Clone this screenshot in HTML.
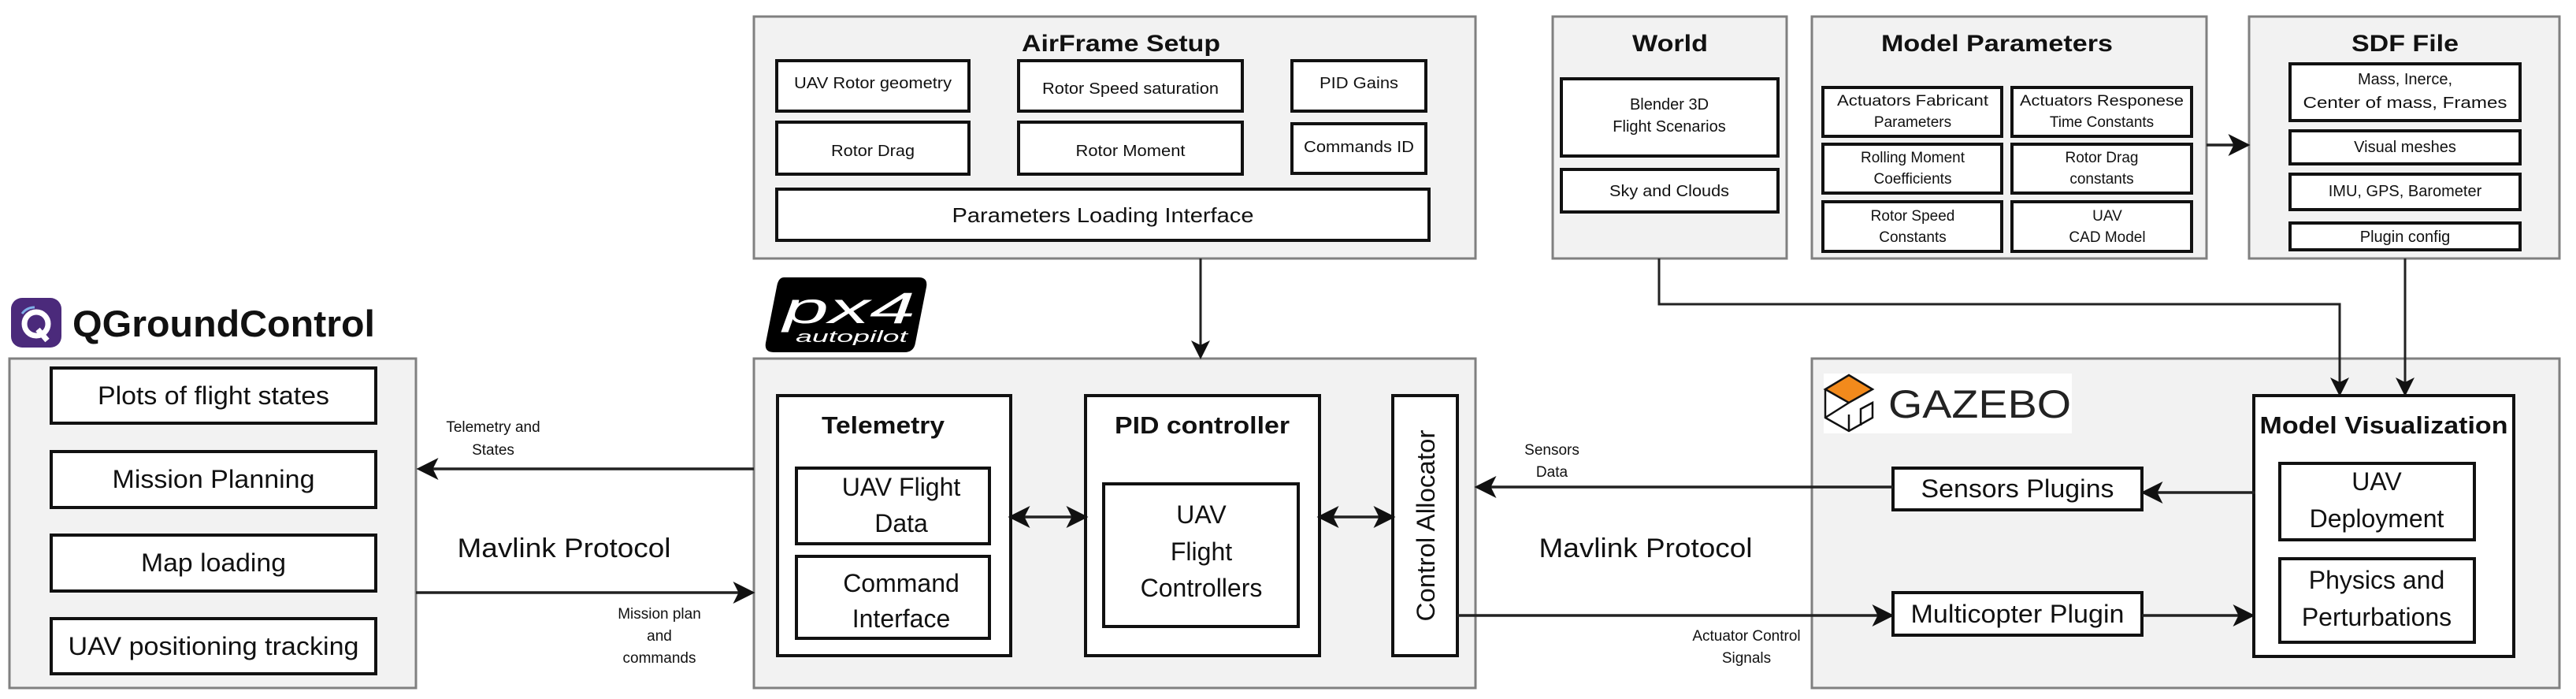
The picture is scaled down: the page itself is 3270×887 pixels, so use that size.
<!DOCTYPE html>
<html><head><meta charset="utf-8"><style>
html,body{margin:0;padding:0;background:#fff;}
svg{display:block;}
text{font-family:"Liberation Sans",Arial,sans-serif;fill:#111;}
.o{fill:#f2f2f2;stroke:#808080;stroke-width:3;}
.i{fill:#fff;stroke:#111;stroke-width:4;}
.t{font-weight:bold;}
.c{text-anchor:middle;}
.ln{stroke:#222;stroke-width:3.5;fill:none;}
</style></head><body>
<svg width="3270" height="887" viewBox="0 0 3270 887" xmlns="http://www.w3.org/2000/svg">
<defs>
<marker id="a" markerWidth="8" markerHeight="8" refX="7" refY="4" orient="auto" markerUnits="strokeWidth">
<path d="M0,0 L8,4 L0,8 L2,4 z" fill="#111"/></marker>
<marker id="s" markerWidth="8" markerHeight="8" refX="1" refY="4" orient="auto" markerUnits="strokeWidth">
<path d="M8,0 L0,4 L8,8 L6,4 z" fill="#111"/></marker>
</defs>

<!-- AirFrame Setup -->
<rect class="o" x="957" y="21" width="916" height="307"/>
<text class="t c" x="1423" y="65" font-size="30" textLength="252" lengthAdjust="spacingAndGlyphs">AirFrame Setup</text>
<rect class="i" x="986" y="77" width="244" height="64"/>
<text class="c" x="1108" y="112" font-size="20" textLength="200" lengthAdjust="spacingAndGlyphs">UAV Rotor geometry</text>
<rect class="i" x="1293" y="77" width="284" height="64"/>
<text class="c" x="1435" y="119" font-size="20" textLength="224" lengthAdjust="spacingAndGlyphs">Rotor Speed saturation</text>
<rect class="i" x="1640" y="77" width="170" height="64"/>
<text class="c" x="1725" y="112" font-size="20" textLength="100" lengthAdjust="spacingAndGlyphs">PID Gains</text>
<rect class="i" x="986" y="155" width="244" height="66"/>
<text class="c" x="1108" y="198" font-size="20" textLength="106" lengthAdjust="spacingAndGlyphs">Rotor Drag</text>
<rect class="i" x="1293" y="155" width="284" height="66"/>
<text class="c" x="1435" y="198" font-size="20" textLength="139" lengthAdjust="spacingAndGlyphs">Rotor Moment</text>
<rect class="i" x="1640" y="157" width="170" height="63"/>
<text class="c" x="1725" y="193" font-size="20" textLength="140" lengthAdjust="spacingAndGlyphs">Commands ID</text>
<rect class="i" x="986" y="240" width="828" height="65"/>
<text class="c" x="1400" y="282" font-size="26" textLength="383" lengthAdjust="spacingAndGlyphs">Parameters Loading Interface</text>

<!-- World -->
<rect class="o" x="1971" y="21" width="297" height="307"/>
<text class="t c" x="2120" y="65" font-size="30" textLength="96" lengthAdjust="spacingAndGlyphs">World</text>
<rect class="i" x="1982" y="100" width="275" height="98"/>
<text class="c" x="2119" y="139" font-size="20">Blender 3D</text>
<text class="c" x="2119" y="167" font-size="20">Flight Scenarios</text>
<rect class="i" x="1982" y="215" width="275" height="54"/>
<text class="c" x="2119" y="249" font-size="20" textLength="152" lengthAdjust="spacingAndGlyphs">Sky and Clouds</text>

<!-- Model Parameters -->
<rect class="o" x="2300" y="21" width="501" height="307"/>
<text class="t c" x="2535" y="65" font-size="30" textLength="294" lengthAdjust="spacingAndGlyphs">Model Parameters</text>
<rect class="i" x="2314" y="111" width="227" height="62"/>
<rect class="i" x="2554" y="111" width="228" height="62"/>
<rect class="i" x="2314" y="183" width="227" height="62"/>
<rect class="i" x="2554" y="183" width="228" height="62"/>
<rect class="i" x="2314" y="256" width="227" height="63"/>
<rect class="i" x="2554" y="256" width="228" height="63"/>
<g font-size="19">
<text class="c" x="2428" y="134" textLength="192" lengthAdjust="spacingAndGlyphs">Actuators Fabricant</text>
<text class="c" x="2428" y="161">Parameters</text>
<text class="c" x="2668" y="134" textLength="208" lengthAdjust="spacingAndGlyphs">Actuators Responese</text>
<text class="c" x="2668" y="161">Time Constants</text>
<text class="c" x="2428" y="206">Rolling Moment</text>
<text class="c" x="2428" y="233">Coefficients</text>
<text class="c" x="2668" y="206">Rotor Drag</text>
<text class="c" x="2668" y="233">constants</text>
<text class="c" x="2428" y="280">Rotor Speed</text>
<text class="c" x="2428" y="307">Constants</text>
<text class="c" x="2675" y="280">UAV</text>
<text class="c" x="2675" y="307">CAD Model</text>
</g>

<!-- SDF File -->
<rect class="o" x="2855" y="21" width="394" height="307"/>
<text class="t c" x="3053" y="65" font-size="30" textLength="136" lengthAdjust="spacingAndGlyphs">SDF File</text>
<rect class="i" x="2907" y="81" width="292" height="72"/>
<text class="c" x="3053" y="107" font-size="20">Mass, Inerce,</text>
<text class="c" x="3053" y="137" font-size="20" textLength="259" lengthAdjust="spacingAndGlyphs">Center of mass, Frames</text>
<rect class="i" x="2907" y="166" width="292" height="42"/>
<text class="c" x="3053" y="193" font-size="20">Visual meshes</text>
<rect class="i" x="2907" y="221" width="292" height="45"/>
<text class="c" x="3053" y="249" font-size="20">IMU, GPS, Barometer</text>
<rect class="i" x="2907" y="283" width="292" height="34"/>
<text class="c" x="3053" y="307" font-size="20">Plugin config</text>

<!-- QGroundControl -->
<rect x="14" y="378" width="64" height="63" rx="14" fill="#4b2a7b"/>
<circle cx="46" cy="411" r="15" fill="none" stroke="#fff" stroke-width="7"/>
<path d="M48,418 L60,432" stroke="#fff" stroke-width="7"/>
<path d="M28,398 q6,-8 16,-8" stroke="#7fb0e8" stroke-width="3" fill="none"/>
<text class="t" x="92" y="427" font-size="47" textLength="384" lengthAdjust="spacingAndGlyphs">QGroundControl</text>
<rect class="o" x="12" y="455" width="516" height="418"/>
<rect class="i" x="65" y="467" width="412" height="70"/>
<text class="c" x="271" y="513" font-size="32" textLength="294" lengthAdjust="spacingAndGlyphs">Plots of flight states</text>
<rect class="i" x="65" y="573" width="412" height="71"/>
<text class="c" x="271" y="619" font-size="32" textLength="257" lengthAdjust="spacingAndGlyphs">Mission Planning</text>
<rect class="i" x="65" y="679" width="412" height="71"/>
<text class="c" x="271" y="725" font-size="32" textLength="184" lengthAdjust="spacingAndGlyphs">Map loading</text>
<rect class="i" x="65" y="785" width="412" height="70"/>
<text class="c" x="271" y="831" font-size="32" textLength="369" lengthAdjust="spacingAndGlyphs">UAV positioning tracking</text>

<!-- PX4 logo -->
<path d="M995,352 L1166,352 Q1178,352 1176,364 L1162,435 Q1160,447 1148,447 L982,447 Q970,447 972,435 L986,364 Q988,352 995,352 z" fill="#000"/>
<text x="994" y="410" font-size="56" font-style="italic" style="fill:#fff" textLength="168" lengthAdjust="spacingAndGlyphs">px4</text>
<text x="1010" y="434" font-size="20" font-style="italic" style="fill:#fff" textLength="142" lengthAdjust="spacingAndGlyphs">autopilot</text>

<!-- PX4 box -->
<rect class="o" x="957" y="455" width="916" height="418"/>
<rect class="i" x="987" y="502" width="296" height="330"/>
<text class="t c" x="1121" y="550" font-size="31" textLength="156" lengthAdjust="spacingAndGlyphs">Telemetry</text>
<rect class="i" x="1011" y="594" width="245" height="96"/>
<text class="c" x="1144" y="629" font-size="32">UAV Flight</text>
<text class="c" x="1144" y="675" font-size="32">Data</text>
<rect class="i" x="1011" y="706" width="245" height="104"/>
<text class="c" x="1144" y="751" font-size="32">Command</text>
<text class="c" x="1144" y="796" font-size="32">Interface</text>
<rect class="i" x="1378" y="502" width="297" height="330"/>
<text class="t c" x="1526" y="550" font-size="31" textLength="222" lengthAdjust="spacingAndGlyphs">PID controller</text>
<rect class="i" x="1401" y="614" width="247" height="181"/>
<text class="c" x="1525" y="664" font-size="32">UAV</text>
<text class="c" x="1525" y="711" font-size="32">Flight</text>
<text class="c" x="1525" y="757" font-size="32">Controllers</text>
<rect class="i" x="1768" y="502" width="82" height="330"/>
<text class="c" transform="translate(1821,667) rotate(-90)" font-size="32" textLength="243" lengthAdjust="spacingAndGlyphs">Control Allocator</text>

<!-- Gazebo box -->
<rect class="o" x="2300" y="455" width="949" height="418"/>
<rect x="2315" y="474" width="315" height="76" fill="#fff"/>
<path d="M2347,476 L2377,494 L2347,511 L2317,494 z" fill="#f28a1c" stroke="#111" stroke-width="2.5"/>
<path d="M2317,494 L2317,530 L2347,547 L2377,530 L2377,511 L2362,519 L2362,540 M2317,530 L2347,511 M2347,547 L2347,526" stroke="#111" stroke-width="2.5" fill="none"/>
<text x="2397" y="530" font-size="50" style="fill:#222" textLength="232" lengthAdjust="spacingAndGlyphs">GAZEBO</text>
<rect class="i" x="2403" y="594" width="316" height="53"/>
<text class="c" x="2561" y="631" font-size="32" textLength="245" lengthAdjust="spacingAndGlyphs">Sensors Plugins</text>
<rect class="i" x="2403" y="752" width="316" height="54"/>
<text class="c" x="2561" y="790" font-size="32" textLength="271" lengthAdjust="spacingAndGlyphs">Multicopter Plugin</text>
<rect class="i" x="2861" y="502" width="330" height="331"/>
<text class="t c" x="3026" y="550" font-size="31" textLength="315" lengthAdjust="spacingAndGlyphs">Model Visualization</text>
<rect class="i" x="2894" y="588" width="247" height="97"/>
<text class="c" x="3017" y="622" font-size="32">UAV</text>
<text class="c" x="3017" y="669" font-size="32">Deployment</text>
<rect class="i" x="2894" y="709" width="247" height="106"/>
<text class="c" x="3017" y="747" font-size="32">Physics and</text>
<text class="c" x="3017" y="794" font-size="32">Perturbations</text>

<!-- connectors -->
<line class="ln" x1="1524" y1="328" x2="1524" y2="453" marker-end="url(#a)" style="stroke-width:3"/>
<line class="ln" x1="957" y1="595" x2="532" y2="595" marker-end="url(#a)"/>
<line class="ln" x1="528" y1="752" x2="955" y2="752" marker-end="url(#a)"/>
<line class="ln" x1="1283" y1="656" x2="1378" y2="656" marker-start="url(#s)" marker-end="url(#a)"/>
<line class="ln" x1="1675" y1="656" x2="1768" y2="656" marker-start="url(#s)" marker-end="url(#a)"/>
<line class="ln" x1="2403" y1="618" x2="1875" y2="618" marker-end="url(#a)"/>
<line class="ln" x1="1850" y1="781" x2="2401" y2="781" marker-end="url(#a)"/>
<line class="ln" x1="2863" y1="625" x2="2721" y2="625" marker-end="url(#a)"/>
<line class="ln" x1="2719" y1="781" x2="2859" y2="781" marker-end="url(#a)"/>
<line class="ln" x1="2801" y1="184" x2="2853" y2="184" marker-end="url(#a)"/>
<polyline class="ln" points="2106,328 2106,386 2970,386 2970,500" marker-end="url(#a)" style="stroke-width:3"/>
<line class="ln" x1="3053" y1="328" x2="3053" y2="500" marker-end="url(#a)" style="stroke-width:3"/>

<!-- labels -->
<g font-size="19">
<text class="c" x="626" y="548">Telemetry and</text>
<text class="c" x="626" y="577">States</text>
<text class="c" x="837" y="785">Mission plan</text>
<text class="c" x="837" y="813">and</text>
<text class="c" x="837" y="841">commands</text>
<text class="c" x="1970" y="577">Sensors</text>
<text class="c" x="1970" y="605">Data</text>
<text class="c" x="2217" y="813">Actuator Control</text>
<text class="c" x="2217" y="841">Signals</text>
</g>
<text class="c" x="716" y="707" font-size="34" textLength="271" lengthAdjust="spacingAndGlyphs">Mavlink Protocol</text>
<text class="c" x="2089" y="707" font-size="34" textLength="271" lengthAdjust="spacingAndGlyphs">Mavlink Protocol</text>
</svg>
</body></html>
